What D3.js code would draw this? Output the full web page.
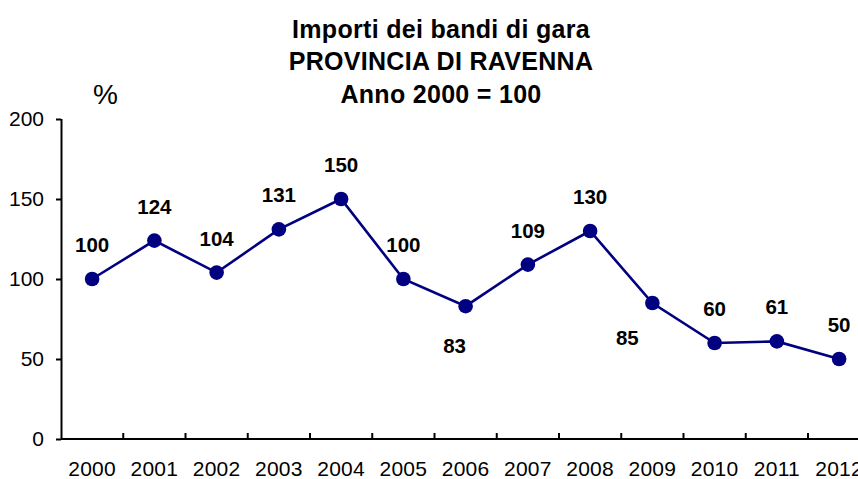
<!DOCTYPE html>
<html>
<head>
<meta charset="utf-8">
<style>
  body { margin: 0; background: #fff; }
  text { font-family: "Liberation Sans", Arial, sans-serif; }
  .axis .domain { stroke: #000; stroke-width: 2px; }
  .axis .tick line { stroke: #000; stroke-width: 2px; }
  .axis .tick text { font-size: 21px; fill: #000; font-family: "Liberation Sans", Arial, sans-serif; }
</style>
</head>
<body>
<svg width="858" height="479"></svg>
<script src="https://d3js.org/d3.v7.min.js"></script>
<script>

var years = ["2000", "2001", "2002", "2003", "2004", "2005", "2006", "2007", "2008", "2009", "2010", "2011", "2012"];
var values = [100, 124, 104, 131, 150, 100, 83, 109, 130, 85, 60, 61, 50];
var yTicks = [0, 50, 100, 150, 200];
var titleLines = ["Importi dei bandi di gara", "PROVINCIA DI RAVENNA", "Anno 2000 = 100"];

var svg = d3.select("svg"),
    margin = {top: 119, left: 61},
    plotH = 320;

var g = svg.append("g").attr("transform", "translate(" + margin.left + "," + margin.top + ")");

// the plot runs past the right edge of the window, like the original
var x = d3.scaleBand()
    .domain(years)
    .range([0, 62.25 * years.length]);

var y = d3.scaleLinear()
    .domain([0, 200])
    .range([plotH, 0]);

// y axis
g.append("g")
    .attr("class", "axis")
    .call(d3.axisLeft(y).tickValues(yTicks).tickSize(5).tickSizeOuter(0).tickPadding(12))
    .call(function(a) { a.select(".domain").attr("d", "M0.5," + (plotH + 1) + "V0"); });

// x axis: ticks between categories, pointing up
var xa = g.append("g")
    .attr("class", "axis")
    .attr("transform", "translate(0," + plotH + ")");

xa.append("path")
    .attr("class", "domain")
    .attr("d", "M0,0H" + x.range()[1]);

xa.selectAll("line.sep")
    .data(years.slice(1))
    .enter().append("line")
      .attr("class", "sep")
      .attr("x1", function(d) { return x(d); })
      .attr("x2", function(d) { return x(d); })
      .attr("y1", 0)
      .attr("y2", -6)
      .attr("stroke", "#000")
      .attr("stroke-width", 2);

xa.selectAll("text.yr")
    .data(years)
    .enter().append("text")
      .attr("class", "yr")
      .attr("x", function(d) { return x(d) + x.bandwidth() / 2; })
      .attr("y", 37)
      .attr("text-anchor", "middle")
      .attr("font-size", 21)
      .attr("letter-spacing", 0.3)
      .text(function(d) { return d; });

// line + markers
var line = d3.line()
    .x(function(d, i) { return x(years[i]) + x.bandwidth() / 2; })
    .y(function(d) { return y(d); });

g.append("path")
    .datum(values)
    .attr("fill", "none")
    .attr("stroke", "#000080")
    .attr("stroke-width", 2.6)
    .attr("d", line);

g.selectAll("circle")
    .data(values)
    .enter().append("circle")
      .attr("cx", function(d, i) { return x(years[i]) + x.bandwidth() / 2; })
      .attr("cy", function(d) { return y(d); })
      .attr("r", 7.3)
      .attr("fill", "#000080");

// data labels, above the point except where they would hit the line
var below = {"2006": [-11, 47], "2009": [-25, 42]};

g.selectAll("text.lbl")
    .data(values)
    .enter().append("text")
      .attr("class", "lbl")
      .attr("x", function(d, i) { return x(years[i]) + x.bandwidth() / 2 + (below[years[i]] ? below[years[i]][0] : 0); })
      .attr("y", function(d, i) { return y(d) + (below[years[i]] ? below[years[i]][1] : -27); })
      .attr("text-anchor", "middle")
      .attr("font-size", 20.5)
      .attr("font-weight", "bold")
      .text(function(d) { return d; });

// titles
svg.selectAll("text.title")
    .data(titleLines)
    .enter().append("text")
      .attr("class", "title")
      .attr("x", 441)
      .attr("y", function(d, i) { return 37.5 + i * 32.8; })
      .attr("text-anchor", "middle")
      .attr("font-size", 25)
      .attr("letter-spacing", 0.3)
      .attr("font-weight", "bold")
      .text(function(d) { return d; });

svg.append("text")
    .attr("x", 105.5)
    .attr("y", 104)
    .attr("text-anchor", "middle")
    .attr("font-size", 28)
    .text("%");

</script>
</body>
</html>
